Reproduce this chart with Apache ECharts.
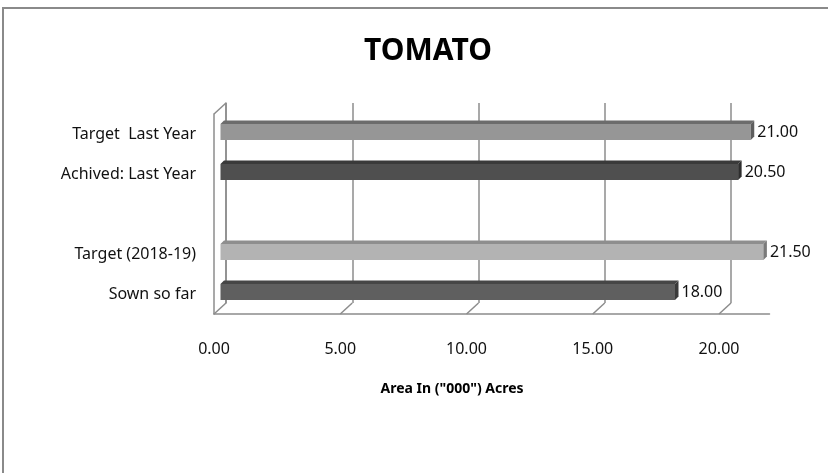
<!DOCTYPE html>
<html>
<head>
<meta charset="utf-8">
<script src="https://cdn.jsdelivr.net/npm/echarts@6/dist/echarts.min.js"></script>
<style>
html,body{margin:0;padding:0;background:#fff;}
#c{width:828px;height:473px;}
</style>
</head>
<body>
<div id="c"></div>
<script>
// ---- data ----
var categories = ['Target  Last Year', 'Achived: Last Year', '', 'Target (2018-19)', 'Sown so far'];
var values = [21.00, 20.50, null, 21.50, 18.00];
var tickValues = [0, 5, 10, 15, 20];
var titleText = 'TOMATO';
var axisTitle = 'Area In ("000") Acres';

// ---- styles ----
var faceColors = ['#969696', '#4f4f4f', '#000000', '#b3b3b3', '#5f5f5f'];
var topColors  = ['#6c6c6c', '#3a3a3a', '#000000', '#8e8e8e', '#464646'];
var capColors  = ['#5e5e5e', '#2e2e2e', '#000000', '#7a7a7a', '#3a3a3a'];
var FONT = "'Noto Sans','Open Sans',sans-serif";
var GRID = '#8c8c8c';

var chart = echarts.init(document.getElementById('c'), null, {renderer: 'canvas'});

var barData = values.map(function (v, i) { return [v, i]; }).filter(function (d) { return d[0] != null; });

var option = {
  animation: false,
  backgroundColor: '#fff',
  title: [
    {text: titleText, left: 423, top: 31, textAlign: 'center',
     textStyle: {fontFamily: FONT, fontWeight: 'bold', fontSize: 30, color: '#000'}},
    {text: axisTitle, left: 447, top: 377, textAlign: 'center',
     textStyle: {fontFamily: FONT, fontWeight: 'bold', fontSize: 14, color: '#000'}}
  ],
  graphic: [
    {type: 'rect', shape: {x: 3, y: 8, width: 900, height: 600}, silent: true,
     style: {fill: 'none', stroke: '#8a8a8a', lineWidth: 2}}
  ],
  grid: [
    {left: 214, top: 114, width: 555.5, height: 200},   // front
    {left: 226, top: 103, width: 555.5, height: 200},   // back wall
    {left: 220.5, top: 111, width: 555.5, height: 200}  // bars
  ],
  xAxis: [
    {gridIndex: 0, type: 'value', min: 0, max: 22, interval: 5,
     axisLine: {show: true, lineStyle: {color: GRID, width: 1.5}},
     axisTick: {show: false}, splitLine: {show: false},
     axisLabel: {show: true, showMaxLabel: false, margin: 27, fontFamily: FONT, fontSize: 16, color: '#111',
       formatter: function (v) { return v.toFixed(2); }}},
    {gridIndex: 1, type: 'value', min: 0, max: 22, interval: 5,
     axisLine: {show: false}, axisTick: {show: false}, axisLabel: {show: false},
     splitLine: {show: true, showMaxLine: false, lineStyle: {color: GRID, width: 1.5}}},
    {gridIndex: 2, type: 'value', min: 0, max: 22, show: false}
  ],
  yAxis: [
    {gridIndex: 0, type: 'category', data: categories, inverse: true,
     axisLine: {show: true, lineStyle: {color: GRID, width: 1.5}},
     axisTick: {show: false}, splitLine: {show: false},
     axisLabel: {margin: 18, fontFamily: FONT, fontSize: 16, color: '#111'}},
    {gridIndex: 1, type: 'category', data: categories, inverse: true,
     axisLine: {show: true, lineStyle: {color: GRID, width: 1.5}},
     axisTick: {show: false}, axisLabel: {show: false}, splitLine: {show: false}},
    {gridIndex: 2, type: 'category', data: categories, inverse: true, show: false}
  ],
  series: [
    {
      type: 'custom', xAxisIndex: 0, yAxisIndex: 0, silent: true,
      data: tickValues.map(function (t) { return [t, 0]; }),
      renderItem: function (params, api) {
        var cs = params.coordSys;
        var p = api.coord([api.value(0), 0]);
        var yb = cs.y + cs.height;
        var children = [{type: 'line', shape: {x1: p[0], y1: yb, x2: p[0] + 12, y2: yb - 11},
          style: {stroke: GRID, lineWidth: 1.5}}];
        if (params.dataIndex === 0) {
          children.push({type: 'line', shape: {x1: cs.x, y1: cs.y, x2: cs.x + 12, y2: cs.y - 11},
            style: {stroke: GRID, lineWidth: 1.5}});
        }
        return {type: 'group', children: children};
      }
    },
    {
      type: 'custom', xAxisIndex: 2, yAxisIndex: 2, silent: true,
      data: barData,
      encode: {x: 0, y: 1},
      renderItem: function (params, api) {
        var v = api.value(0), ci = api.value(1);
        var p0 = api.coord([0, ci]);
        var p1 = api.coord([v, ci]);
        var yc = p0[1], x0 = p0[0], x1 = p1[0];
        var d = 3.5, top = yc - 7, bot = yc + 9;
        return {type: 'group', children: [
          {type: 'polygon', shape: {points: [[x0, top], [x1, top], [x1 + d, top - d], [x0 + d, top - d]]},
           style: {fill: topColors[ci]}},
          {type: 'rect', shape: {x: x0, y: top, width: x1 - x0, height: bot - top},
           style: {fill: faceColors[ci]}},
          {type: 'polygon', shape: {points: [[x1, top], [x1 + d, top - d], [x1 + d, bot - d], [x1, bot]]},
           style: {fill: capColors[ci]}},
          {type: 'text', x: x1 + d + 3, y: yc + 1,
           style: {text: v.toFixed(2), fontFamily: FONT, fontSize: 16, fill: '#111',
             textAlign: 'left', textVerticalAlign: 'middle'}}
        ]};
      }
    }
  ]
};
chart.setOption(option);
</script>
</body>
</html>
